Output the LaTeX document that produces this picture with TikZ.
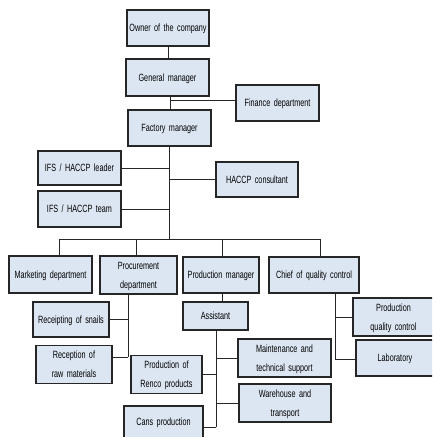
\documentclass[tikz,border=0pt]{standalone}
\usepackage{fontspec}
\usepackage{graphicx}
\setmainfont{Liberation Sans}[WordSpace=1.7]
\begin{document}
\begin{tikzpicture}[x=1pt,y=-1pt,
  box/.style={draw=black!85,line width=1.1pt,fill=boxfill,inner sep=0pt,
    font=\fontsize{10.5}{19}\selectfont},
  link/.style={draw=black!85,line width=0.8pt}]
\definecolor{boxfill}{HTML}{DCE6F2}
\useasboundingbox (0,0) rectangle (432,437);
\clip (0,0) rectangle (432,437);
% boxes given by their corners; labels set in a narrowed sans
\newcommand{\orgbox}[6]{%
  \node[box,minimum width={(#4)-(#2)},minimum height={(#5)-(#3)}]
    (#1) at ({((#2)+(#4))/2},{((#3)+(#5))/2})
    {\scalebox{0.69}[1]{\setlength{\tabcolsep}{0pt}\begin{tabular}{c}#6\end{tabular}}};}
\orgbox{owner}{127}{10}{209}{46}{Owner of the company}
\orgbox{gm}{126}{59}{209}{96}{General manager}
\orgbox{fin}{236}{85}{319}{121}{Finance department}
\orgbox{fac}{128}{110}{211}{146}{Factory manager}
\orgbox{ifsl}{38}{151}{121}{185}{IFS / HACCP leader}
\orgbox{hc}{216}{162}{298}{197}{HACCP consultant}
\orgbox{ifst}{38}{191}{121}{227}{IFS / HACCP team}
\orgbox{mkt}{9}{256}{92}{293}{Marketing department}
\orgbox{proc}{100}{257}{177}{293}{Procurement\\department}
\orgbox{pm}{183}{257}{259}{293}{Production manager}
\orgbox{cqc}{269}{257}{359}{293}{Chief of quality control}
\orgbox{rs}{33}{302}{109}{337}{Receipting of snails}
\orgbox{rrm}{36}{347}{112}{382}{Reception of\\raw materials}
\orgbox{asst}{183}{302}{248}{330}{Assistant}
\orgbox{mts}{238}{340}{331}{376}{Maintenance and\\technical support}
\orgbox{ren}{131}{357}{202}{392}{Production of\\Renco products}
\orgbox{wt}{239}{385}{331}{421}{Warehouse and\\transport}
\orgbox{cans}{124}{406}{203}{448}{\raisebox{5pt}{Cans production}}
\orgbox{pqc}{353}{299}{434}{335}{Production\\quality control}
\orgbox{lab}{356}{340}{434}{376}{Laboratory}
% junction points
\coordinate (top) at (168,46);
\coordinate (gmj) at (170,100);
\coordinate (trunk) at (169,239);
\coordinate (busl) at (59,239);
\coordinate (busr) at (320,239);
\coordinate (procj) at (128,357);
\coordinate (asstj) at (216,427);
\coordinate (cqcj) at (335,359);
\coordinate (procd) at (136,239);
\coordinate (pmd) at (222,239);
% connectors
\draw[link] (top) -- (top |- gm.north);
\draw[link] (gm.south -| gmj) -- (fac.north -| gmj);
\draw[link] (gmj) -- (fin.west |- gmj);
\draw[link] (fac.south -| trunk) -- (trunk);
\draw[link] ([yshift=-0.5pt]ifsl.east) -- ([yshift=-0.5pt]ifsl.east -| trunk);
\draw[link] (hc.west) -- (hc.west -| trunk);
\draw[link] (ifst.east) -- (ifst.east -| trunk);
\draw[link] (busl) -- (busr);
\draw[link] (busl) -- (busl |- mkt.north);
\draw[link] (procd) -- (procd |- proc.north);
\draw[link] (pmd) -- (pmd |- pm.north);
\draw[link] (busr) -- (busr |- cqc.north);
\draw[link] (proc.south -| procj) -- (procj);
\draw[link] (rs.east) -- (rs.east -| procj);
\draw[link] (procj) -- (procj -| rrm.east);
\draw[link] (pm.south -| pmd) -- (asst.north -| pmd);
\draw[link] (asst.south -| asstj) -- (asstj);
\draw[link] (mts.west) -- (mts.west -| asstj);
\draw[link] (ren.east) -- (ren.east -| asstj);
\draw[link] (wt.west) -- (wt.west -| asstj);
\draw[link] (asstj) -- (asstj -| cans.east);
\draw[link] (cqc.south -| cqcj) -- (cqcj);
\draw[link] (pqc.west) -- (pqc.west -| cqcj);
\draw[link] (cqcj) -- (lab.west |- cqcj);
\end{tikzpicture}
\end{document}
